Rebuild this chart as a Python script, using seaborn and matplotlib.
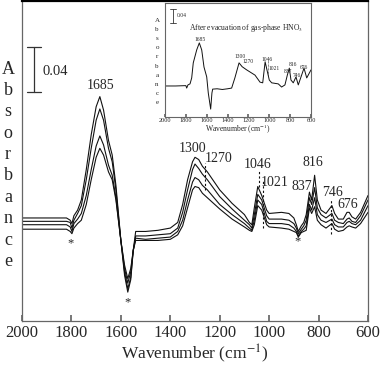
import numpy as np
import pandas as pd
import seaborn as sns
import matplotlib.pyplot as plt

sns.set_theme(style="white")
plt.rcParams["font.family"] = ["Liberation Serif", "DejaVu Serif"]
plt.rcParams["mathtext.fontset"] = "stix"

# -------------------------------
# DATA (main panel: four spectra, absorbance)
# -------------------------------
wavenumber = [2000, 1900, 1820, 1805, 1798, 1790, 1775, 1760, 1740, 1720,
              1700, 1685, 1670, 1650, 1635, 1620, 1600, 1585, 1572, 1560,
              1550, 1540, 1500, 1450, 1400, 1370, 1350, 1330, 1310, 1300,
              1285, 1270, 1250, 1200, 1150, 1100, 1080, 1070, 1060, 1046,
              1030, 1010, 1000, 950, 920, 900, 890, 882, 870, 860,
              850, 837, 828, 816, 805, 790, 770, 746, 735, 720,
              700, 685, 676, 665, 650, 630, 600]

spec_a = [-0.016, -0.016, -0.016, -0.018, -0.021, -0.014, -0.009, 0.000, 0.027, 0.058,
          0.083, 0.092, 0.080, 0.053, 0.040, 0.013, -0.036, -0.067, -0.082, -0.071,
          -0.045, -0.028, -0.028, -0.027, -0.025, -0.020, -0.004, 0.018, 0.034, 0.038,
          0.036, 0.030, 0.025, 0.009, -0.003, -0.013, -0.020, -0.022, -0.007, 0.012,
          0.004, -0.009, -0.012, -0.011, -0.012, -0.016, -0.022, -0.028, -0.023, -0.020,
          -0.013, 0.007, 0.000, 0.022, 0.000, -0.009, -0.012, -0.005, -0.012, -0.017,
          -0.017, -0.011, -0.011, -0.015, -0.017, -0.011, 0.004]

spec_b = [-0.019, -0.019, -0.019, -0.020, -0.025, -0.018, -0.012, -0.005, 0.018, 0.046,
          0.071, 0.081, 0.071, 0.046, 0.034, 0.009, -0.036, -0.064, -0.079, -0.069,
          -0.045, -0.032, -0.032, -0.031, -0.030, -0.025, -0.011, 0.009, 0.027, 0.032,
          0.028, 0.023, 0.018, 0.003, -0.008, -0.018, -0.022, -0.025, -0.013, 0.005,
          0.000, -0.014, -0.017, -0.017, -0.018, -0.021, -0.025, -0.030, -0.026, -0.023,
          -0.018, 0.002, -0.004, 0.011, -0.007, -0.013, -0.016, -0.012, -0.018, -0.020,
          -0.021, -0.017, -0.016, -0.019, -0.020, -0.014, 0.000]

spec_c = [-0.022, -0.022, -0.022, -0.024, -0.028, -0.021, -0.017, -0.012, 0.004, 0.027,
          0.048, 0.057, 0.049, 0.031, 0.022, 0.002, -0.036, -0.061, -0.074, -0.064,
          -0.045, -0.034, -0.035, -0.034, -0.033, -0.028, -0.018, 0.000, 0.016, 0.020,
          0.018, 0.013, 0.009, -0.004, -0.013, -0.021, -0.025, -0.027, -0.018, 0.000,
          -0.004, -0.019, -0.021, -0.021, -0.022, -0.025, -0.028, -0.032, -0.028, -0.026,
          -0.023, -0.004, -0.009, 0.002, -0.013, -0.018, -0.020, -0.017, -0.022, -0.024,
          -0.024, -0.020, -0.019, -0.021, -0.022, -0.018, -0.005]

spec_d = [-0.026, -0.026, -0.026, -0.028, -0.030, -0.025, -0.021, -0.018, -0.004, 0.018,
          0.038, 0.046, 0.040, 0.025, 0.018, 0.000, -0.036, -0.058, -0.070, -0.061,
          -0.045, -0.036, -0.036, -0.036, -0.035, -0.031, -0.023, -0.007, 0.009, 0.012,
          0.011, 0.006, 0.002, -0.008, -0.017, -0.024, -0.027, -0.028, -0.022, -0.005,
          -0.009, -0.022, -0.024, -0.025, -0.026, -0.028, -0.029, -0.033, -0.029, -0.028,
          -0.027, -0.007, -0.012, -0.006, -0.018, -0.022, -0.025, -0.021, -0.026, -0.028,
          -0.027, -0.024, -0.023, -0.024, -0.025, -0.021, -0.011]

# peak labels (main): text, x, y
peak_labels = ["1685", "1300", "1270", "1046", "1021", "837", "816", "746", "676"]
peak_x = [1684, 1308, 1203, 1045, 976, 867, 822, 745, 681]
peak_y = [0.102, 0.046, 0.037, 0.032, 0.016, 0.012, 0.033, 0.007, -0.004]
star_x = [1802, 1575, 887]
star_y = [-0.039, -0.091, -0.037]
# dashed markers: wavenumber, from, to
dash_x = [1258, 1041, 1026, 750]
dash_lo = [0.009, 0.012, -0.025, -0.030]
dash_hi = [0.033, 0.027, 0.018, 0.000]

# -------------------------------
# DATA (inset: after evacuation)
# -------------------------------
wn_inset = [2000, 1900, 1800, 1792, 1780, 1760, 1744, 1729, 1696, 1671,
            1648, 1626, 1600, 1585, 1562, 1550, 1543, 1500, 1450, 1400,
            1361, 1330, 1290, 1260, 1217, 1137, 1089, 1063, 1040, 1000,
            977, 914, 882, 850, 827, 808, 792, 770, 744, 722,
            690, 667, 641, 600]
abs_inset = [0.000, 0.000, 0.001, -0.006, 0.003, 0.006, 0.023, 0.066, 0.103, 0.123,
             0.103, 0.054, 0.026, -0.020, -0.066, -0.020, -0.009, -0.008, -0.010, -0.008,
             -0.006, 0.023, 0.066, 0.055, 0.046, 0.031, 0.011, 0.009, 0.069, 0.017,
             0.009, 0.006, -0.003, 0.003, 0.031, 0.051, 0.017, 0.009, 0.026, 0.003,
             0.031, 0.051, 0.023, 0.046]
inset_labels = ["1685", "1300", "1270", "1046", "1021", "837", "816", "746", "676"]
inset_lx = [1664, 1281, 1204, 1022, 955, 821, 773, 732, 667]
inset_ly = [0.134, 0.083, 0.069, 0.077, 0.051, 0.040, 0.060, 0.029, 0.054]

spectra = pd.DataFrame({
    "wavenumber": wavenumber * 4,
    "absorbance": spec_a + spec_b + spec_c + spec_d,
    "trace": np.repeat(["a", "b", "c", "d"], len(wavenumber)),
})
inset_df = pd.DataFrame({"wavenumber": wn_inset, "absorbance": abs_inset})

fig = plt.figure(figsize=(3.8, 3.69), dpi=100)
ax = fig.add_axes([22 / 380, 1 - 321 / 369, 346 / 380, 320 / 369])

sns.lineplot(data=spectra, x="wavenumber", y="absorbance", units="trace",
             estimator=None, color="#111111", lw=0.8, ax=ax)

ax.set_xlim(2000, 600)
ax.set_ylim(-0.1077, 0.1771)
ax.set_xticks(range(2000, 599, -200))
ax.set_yticks([])
ax.tick_params(axis="x", direction="in", length=4, color="#666666",
               labelsize=12, pad=3, bottom=True)
ax.set_xlabel("Wavenumber (cm$^{-1}$)", fontsize=12.5, labelpad=1)
ax.set_ylabel("")
for side in ["left", "right", "bottom"]:
    ax.spines[side].set_color("#666666")
    ax.spines[side].set_linewidth(0.9)
ax.spines["top"].set_color("black")
ax.spines["top"].set_linewidth(1.6)

for t, x, y in zip(peak_labels, peak_x, peak_y):
    ax.text(x, y, t, fontsize=10, ha="center", va="center")
for x, y in zip(star_x, star_y):
    ax.text(x, y, "*", fontsize=9, ha="center", va="center")
ax.vlines(dash_x, dash_lo, dash_hi, colors="#111111", linestyles=(0, (2, 2)), lw=0.8)

# scale bar 0.04
ax.plot([1951, 1951], [0.096, 0.136], color="#333333", lw=0.9)
ax.plot([1980, 1923], [0.136, 0.136], color="#333333", lw=0.9)
ax.plot([1980, 1923], [0.096, 0.096], color="#333333", lw=0.9)
ax.text(1918, 0.114, "0.04", fontsize=10.5, ha="left", va="center")

# stacked "Absorbance" label
for i, ch in enumerate("Absorbance"):
    fig.text(8 / 380, 1 - (69 + 21.4 * i) / 369, ch, fontsize=13,
             ha="center", va="center")

# -------------------------------
# INSET
# -------------------------------
ins = fig.add_axes([165 / 380, 1 - 117 / 369, 146 / 380, 114 / 369])
sns.lineplot(data=inset_df, x="wavenumber", y="absorbance", sort=False,
             color="#111111", lw=0.7, ax=ins)
ins.set_xlim(2000, 600)
ins.set_ylim(-0.0886, 0.237)
ins.set_xticks(range(2000, 599, -200))
ins.set_yticks([])
ins.tick_params(axis="x", direction="in", length=2, color="#666666",
                labelsize=4.5, pad=1, bottom=True)
ins.set_xlabel("Wavenumber (cm$^{-1}$)", fontsize=5.5, labelpad=0)
ins.set_ylabel("")
for side in ins.spines.values():
    side.set_color("#666666")
    side.set_linewidth(0.8)
ins.set_facecolor("white")

for t, x, y in zip(inset_labels, inset_lx, inset_ly):
    ins.text(x, y, t, fontsize=4, ha="center", va="center")
ins.vlines([1012], [0.031], [0.074], colors="#111111", linestyles=(0, (1, 1)), lw=0.5)
ins.text(1770, 0.166, "After evacuation of gas-phase HNO$_3$", fontsize=5.5,
         ha="left", va="center")
ins.plot([1923, 1923], [0.180, 0.220], color="#333333", lw=0.6)
ins.plot([1952, 1895], [0.220, 0.220], color="#333333", lw=0.6)
ins.plot([1952, 1895], [0.180, 0.180], color="#333333", lw=0.6)
ins.text(1885, 0.202, "0.04", fontsize=4, ha="left", va="center")

for i, ch in enumerate("Absorbance"):
    fig.text(157 / 380, 1 - (20 + 9.2 * i) / 369, ch, fontsize=5,
             ha="center", va="center")

fig.savefig("out.png", dpi=100)
